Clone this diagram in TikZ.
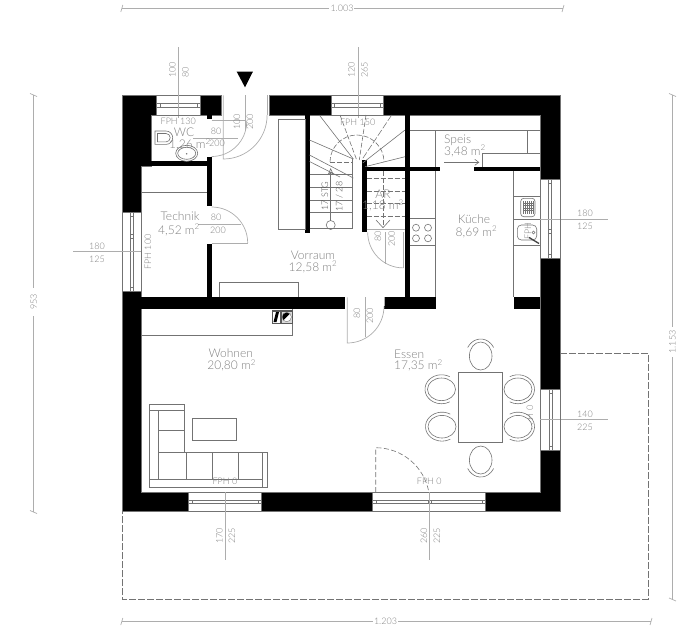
\documentclass[tikz,border=0pt]{standalone}
\usepackage{fontspec}
\setmainfont{Lato}[UprightFont={* Light}]
\usetikzlibrary{arrows.meta}
\definecolor{ln}{gray}{0.68}
\definecolor{fine}{gray}{0.45}
\definecolor{tx}{gray}{0.5}
\tikzset{
  wall/.style={fill=black,draw=fine,line width=0.5pt},
  dim/.style={draw=ln,line width=0.8pt},
  doorline/.style={draw=ln,line width=0.7pt},
  furn/.style={draw=fine,line width=0.6pt},
  furnw/.style={draw=fine,line width=0.6pt,fill=white},
  room/.style={text=tx,font=\fontsize{12}{12}\selectfont,inner sep=0pt,anchor=center},
  small/.style={text=tx,font=\fontsize{9}{9}\selectfont,inner sep=0pt,anchor=center},
  winbox/.style={draw=fine,line width=0.5pt,fill=white},
  dashline/.style={draw=fine,line width=0.6pt,dash pattern=on 5pt off 2.5pt},
  terr/.style={draw=fine,line width=0.7pt,dash pattern=on 7pt off 2pt},
  tickmark/.style={draw=ln,line width=0.7pt},
}
\begin{document}
\begin{tikzpicture}[x=1pt,y=-1pt]
\useasboundingbox (0,0) rectangle (700,641);
% terrace
\draw[terr] (560,353.3) -- (648,353.3) -- (648,599.3) -- (122,599.3) -- (122,511.7);
% dimension chains
\draw[dim] (122,8.5) -- (329,8.5) (354,8.5) -- (563,8.5);
\node[small] (d1003) at (342,8.5) {1.003};
\draw[tickmark] (120.8,12) -- (122.8,5) (562,12) -- (564,5);
\draw[dim] (122,621.5) -- (373,621.5) (398,621.5) -- (651,621.5);
\node[small] (d1203) at (385.5,621.5) {1.203};
\draw[tickmark] (120.8,625) -- (122.8,618) (650,625) -- (652,618);
\draw[dim] (33.7,95) -- (33.7,288) (33.7,316) -- (33.7,512);
\node[small,rotate=90] (d953) at (33.7,302) {953};
\draw[tickmark] (30,93.5) -- (37,96.5) (30,510.5) -- (37,513.5);
\draw[dim] (672.5,95) -- (672.5,327) (672.5,357) -- (672.5,599.5);
\node[small,rotate=90] (d1153) at (672.5,342) {1.153};
\draw[tickmark] (669,93.5) -- (676,96.5) (669,598) -- (676,601);
% window dimension lines
\draw[dim] (178.6,47) -- (178.6,118);
\draw[dim] (358,47) -- (358,118);
\draw[dim] (73,251.7) -- (141,251.7);
\draw[dim] (518,219) -- (608,219);
\draw[dim] (540,419.3) -- (608,419.3);
\draw[dim] (225.5,492) -- (225.5,560);
\draw[dim] (429.5,492) -- (429.5,560);
\node[small,rotate=90,anchor=west] (t100a) at (172.5,78) {100};
\node[small,rotate=90,anchor=west] (t80a) at (185.5,78) {80};
\node[small,rotate=90,anchor=west] (t120) at (351.5,78) {120};
\node[small,rotate=90,anchor=west] (t265) at (364.5,78) {265};
\node[small] (t180l) at (97,246.5) {180};
\node[small] (t125l) at (97,259.3) {125};
\node[small] (t180r) at (585,213.3) {180};
\node[small] (t125r) at (585,226.7) {125};
\node[small] (t140) at (585,414) {140};
\node[small] (t225r) at (585,427) {225};
\node[small,rotate=90] (t170) at (219.5,536) {170};
\node[small,rotate=90] (t225a) at (232,536) {225};
\node[small,rotate=90] (t260) at (424,536) {260};
\node[small,rotate=90] (t225b) at (437,536) {225};
% windows
\draw[winbox] (156.7,95.3) rectangle (200,115);
\draw[furn] (156.7,103) -- (200,103) (156.7,107.3) -- (200,107.3) (160,103) -- (160,107.3) (197,103) -- (197,107.3);
\draw[winbox] (331,95.3) rectangle (383,115);
\draw[furn] (331,103) -- (383,103) (331,107.3) -- (383,107.3) (334,103) -- (334,107.3) (380,103) -- (380,107.3);
\draw[winbox] (122,212.3) rectangle (141,291);
\draw[furn] (130,212.3) -- (130,291) (133.5,212.3) -- (133.5,291) (130,216) -- (133.5,216) (130,287) -- (133.5,287) (130,234) -- (133.5,234) (130,238) -- (133.5,238);
\draw[winbox] (540,179) rectangle (560,258);
\draw[furn] (548,179) -- (548,258) (551.5,179) -- (551.5,258) (548,183) -- (551.5,183) (548,254) -- (551.5,254) (548,229) -- (551.5,229) (548,233) -- (551.5,233);
\draw[winbox] (540,389) rectangle (560,450);
\draw[furn] (549.3,389) -- (549.3,450) (552.5,389) -- (552.5,450) (549.3,393) -- (552.5,393) (549.3,446) -- (552.5,446);
\draw[winbox] (188,492) rectangle (261.7,511.7);
\draw[furn] (188,500) -- (261.7,500) (188,503) -- (261.7,503) (192,500) -- (192,503) (258,500) -- (258,503);
\draw[winbox] (372.3,492) rectangle (485.7,511.7);
\draw[furn] (372.3,500) -- (485.7,500) (372.3,503) -- (485.7,503) (376,500) -- (376,503) (428,500) -- (428,503) (431,500) -- (431,503) (482,500) -- (482,503);
\draw[dim] (429.5,492) -- (429.5,511.7);
\draw[dim] (225.5,492) -- (225.5,511.7);
\draw[dim] (540,419.3) -- (560,419.3);
\draw[dim] (122,251.7) -- (141,251.7);
\draw[dim] (540,219) -- (560,219);
\draw[dim] (178.6,95.3) -- (178.6,115);
\draw[dim] (358,95.3) -- (358,115);
% outer walls
\draw[wall] (122,95.3) -- (156.7,95.3) -- (156.7,115) -- (151,115) -- (151,166) -- (141,166) -- (141,212.3) -- (122,212.3) -- cycle;
\draw[wall] (200,95.3) rectangle (221.7,115);
\fill[black] (206.7,112) rectangle (211.7,119);
\draw[wall] (269,95.3) rectangle (331,115);
\draw[wall] (383,95.3) -- (560,95.3) -- (560,179) -- (540,179) -- (540,115) -- (383,115) -- cycle;
\draw[wall] (540,258) rectangle (560,389);
\draw[wall] (540,450) -- (560,450) -- (560,511.7) -- (485.7,511.7) -- (485.7,492) -- (540,492) -- cycle;
\draw[wall] (261.7,492) rectangle (372.3,511.7);
\draw[wall] (122,291) -- (141,291) -- (141,492) -- (188,492) -- (188,511.7) -- (122,511.7) -- cycle;
% inner walls
\fill[black] (141,297.3) rectangle (345,309);
\fill[black] (384.3,297.3) rectangle (435.7,309);
\fill[black] (514,297.3) rectangle (540,309);
\fill[black] (141,161) rectangle (211.7,166);
\fill[black] (206.7,156.5) rectangle (211.7,206);
\fill[black] (206.7,244) rectangle (211.7,297.3);
\fill[black] (305,115) rectangle (309.5,232.7);
\fill[black] (405,115) rectangle (409.7,297.3);
\fill[black] (361.7,160) rectangle (366.7,232.3);
\fill[black] (361.7,166.7) rectangle (440,170.8);
\fill[black] (474.3,166.7) rectangle (540,170.8);
% Technik and WC
\draw[furn] (141,192) -- (206.7,192);
% wardrobes
\draw[furn] (278.3,119.3) rectangle (305,229.3);
\draw[furn] (219.3,297.3) -- (219.3,282.3) -- (298.3,282.3) -- (298.3,297.3);
% doors
\draw[doorline] (223.3,95.3) -- (223.3,159) arc[start angle=90,end angle=0,radius=43.8];
\draw[doorline] (267,95.3) -- (267,115);
\draw[doorline] (211.7,120) -- (245,120);
\draw[doorline] (245,95) -- (245,131);
\draw[doorline] (211.7,156.5) arc[start angle=90,end angle=0,radius=35];
\draw[doorline] (193,138) -- (238,138);
\draw[doorline] (211.7,207) arc[start angle=270,end angle=360,radius=36];
\draw[doorline] (211.7,243) -- (247.7,243);
\draw[doorline] (198,224.7) -- (241,224.7);
\draw[doorline] (347.3,297.3) -- (347.3,343) arc[start angle=90,end angle=0,radius=36.7];
\draw[doorline] (384,297.3) -- (384,306);
\draw[doorline] (365,297.3) -- (365,337);
\draw[doorline] (367.7,232.3) arc[start angle=180,end angle=90,radius=35.6];
\draw[doorline] (403.3,232) -- (403.3,267.9);
\draw[doorline] (385.7,232.3) -- (385.7,264);
\draw[doorline] (366.7,229) -- (405,229);
\draw[dashline] (375.7,492) -- (375.7,447.7) arc[start angle=270,end angle=350,radius=54];
% texts under furniture
\node[small,rotate=90] (fph0r) at (530,418) {FPH 0};
\node[small,rotate=90] (fphk) at (528,231) {FPH};
% stairs
\draw[furn] (309.5,174) -- (352.7,174) (309.5,187.3) -- (352.7,187.3) (309.5,200) -- (352.7,200) (309.5,212.7) -- (352.7,212.7) (309.5,228.5) -- (352.7,228.5);
\draw[furn] (352.7,159) -- (352.7,228.5);
\draw[furn] (319.3,115) -- (353.3,159) (405,130) -- (362.7,163) (405,156.7) -- (365,166.7);
\draw[furn,dash pattern=on 7pt off 2pt] (391.7,115) -- (361.7,160);
\draw[furn] (309.5,140) -- (353.3,159) (309.5,155) -- (353.3,178) (309.5,161.5) -- (340,177);
\draw[furn,dash pattern=on 5pt off 2pt] (340,115) -- (356.7,160);
\draw[furn,dash pattern=on 5pt off 2pt] (366,115) -- (359.3,160);
\draw[furn,dash pattern=on 5pt off 2pt] (330,162.5) -- (353,162.5);
\draw[furn,dash pattern=on 5pt off 2pt] (330,162) arc[start angle=180,end angle=360,radius=27];
\draw[furn,-{Stealth[open,length=7pt,width=6pt]}] (330.7,220.5) -- (330.7,168);
\draw[furn] (330.7,225) circle[radius=4.5];
\node[small,text=black!70,rotate=90] (stg) at (325,196) {17 STG};
\node[small,text=black!70,rotate=90] (stu) at (339.3,196.5) {17 / 28};
% AR upper stairs
\draw[furn,dash pattern=on 5pt off 2pt] (366.7,178) -- (405,178) (366.7,191.7) -- (405,191.7) (366.7,203) -- (405,203) (366.7,216) -- (405,216);
\draw[furn,dash pattern=on 5pt off 2pt] (383,171) -- (383,226);
\draw[furn] (376,220) -- (383,227.7) -- (390,220);
% kitchen
\draw[furn] (409.7,130.7) -- (540,130.7);
\draw[furn] (435.7,130.7) -- (435.7,166.7);
\draw[furn] (435.7,170.8) -- (435.7,297.3);
\draw[furn] (527.3,130.7) -- (527.3,153);
\draw[furn] (482.3,166.7) -- (482.3,153) -- (540,153);
\draw[furn] (513.7,170.8) -- (513.7,297.3);
\draw[furn] (513.7,196) -- (540,196) (513.7,218.8) -- (540,218.8) (513.7,245.7) -- (540,245.7);
\draw[furn] (409.7,218.7) -- (435.7,218.7) (409.7,245.7) -- (435.7,245.7);
\draw[furn] (416,227.7) circle[radius=3.5] (428,227.7) circle[radius=3.5] (416,238.3) circle[radius=3.5] (428,238.3) circle[radius=3.5];
\draw[furn,rounded corners=3pt] (520.7,198.3) rectangle (535,216.7);
\draw[furn,line width=0.4pt] (523,201) -- (523,214) (525,201) -- (525,214) (527,201) -- (527,214) (529,201) -- (529,214) (531,201) -- (531,214) (533,201) -- (533,214) (523,203) -- (533,203) (523,205.5) -- (533,205.5) (523,208) -- (533,208) (523,210.5) -- (533,210.5);
\draw[furn,rounded corners=4pt] (517.3,225) rectangle (536.7,240);
\draw[furn] (533.5,232.5) circle[radius=1.5];
\draw[fine!60!black,line width=1.3pt] (529,237.5) -- (539,243.5);
\draw[furn,-{Straight Barb[length=4pt,width=6pt]}] (444,162.3) -- (479.3,162.3);
% Wohnen
\draw[furn] (141,335) -- (292.7,335) -- (292.7,309);
\fill[black!65] (271.7,310) rectangle (292.7,324);
\fill[white] (273,311.5) rectangle (280,322.5);
\fill[black] (276,312) -- (279,312) -- (276.5,322) -- (273.5,322) -- cycle;
\fill[black!15] (281.5,311.5) rectangle (291.5,322.5);
\fill[white] (286.7,317) circle[radius=4.7];
\draw[fine] (286.7,317) circle[radius=4.7];
\fill[black] (283.6,320.1) arc[start angle=135,end angle=315,radius=4.4] -- cycle;
% sofa
\draw[furn] (149.3,404) rectangle (184.7,410.3);
\draw[furn] (149.3,410.3) -- (149.3,487.3) -- (267.7,487.3) -- (267.7,452.3) -- (184.7,452.3) -- (184.7,410.3);
\draw[furn] (158.3,410.3) -- (158.3,479) (158.3,430) -- (184.7,430) (158.3,452.3) -- (184.7,452.3);
\draw[furn] (149.3,479) -- (262.3,479) (262.3,452.3) -- (262.3,487.3);
\draw[furn] (186,452.3) -- (186,479) (212,452.3) -- (212,479) (238,452.3) -- (238,479);
\draw[furn] (192.7,418.7) rectangle (236.3,440.7);
% dining
\draw[furn] (458.7,372.3) rectangle (502.3,442.7);
\draw[furnw] (480.7,356) ellipse[x radius=11.3,y radius=14];
\draw[furn] (467.7,347.5) arc[start angle=210,end angle=330,x radius=15,y radius=17];
\draw[furnw] (480.7,460) ellipse[x radius=11.3,y radius=14];
\draw[furn] (467.7,468.5) arc[start angle=150,end angle=30,x radius=15,y radius=17];
\draw[furnw] (441.5,389.3) ellipse[x radius=14,y radius=11.3];
\draw[furn] (449.75,376.7) arc[start angle=300,end angle=60,x radius=16.5,y radius=14.5];
\draw[furnw] (442,426.7) ellipse[x radius=14,y radius=11.3];
\draw[furn] (450.25,414.1) arc[start angle=300,end angle=60,x radius=16.5,y radius=14.5];
\draw[furnw] (518,389.3) ellipse[x radius=14,y radius=11.3];
\draw[furn] (509.75,376.7) arc[start angle=240,end angle=480,x radius=16.5,y radius=14.5];
\draw[furnw] (518,426.7) ellipse[x radius=14,y radius=11.3];
\draw[furn] (509.75,414.1) arc[start angle=240,end angle=480,x radius=16.5,y radius=14.5];
% WC fixtures
\draw[furn] (155,131) -- (166,131) arc[start angle=-90,end angle=90,radius=6.7] -- (155,144.4) -- cycle;
\draw[furn] (157.5,133.5) -- (166,133.5) arc[start angle=-90,end angle=90,radius=4.2] -- (157.5,141.9) -- cycle;
\draw[furnw] (186.7,153.3) ellipse[x radius=11,y radius=8];
\draw[furn] (186.7,153.3) ellipse[x radius=9,y radius=6];
\fill[fine] (186.7,153.8) circle[radius=0.8];
% room labels
\node[small] (fph130) at (178.3,121.7) {FPH 130};
\node[small] (fph150) at (357.7,122.3) {FPH 150};
\node[small,rotate=90] (fph100) at (148,252) {FPH 100};
\node[small] (fph0a) at (225,481.5) {FPH 0};
\node[small] (fph0b) at (429.3,481.5) {FPH 0};
\node[room] (wc1) at (184,132.7) {WC};
\node[room] (wc2) at (190,144.5) {1,26 m\textsuperscript{2}};
\node[small] (wd80) at (216,131) {80};
\node[small] (wd200) at (217,143) {200};
\node[small,rotate=90] (ed100) at (237,122) {100};
\node[small,rotate=90] (ed200) at (250,122) {200};
\node[room] (te1) at (180,215.7) {Technik};
\node[room] (te2) at (179,230) {4,52 m\textsuperscript{2}};
\node[small] (td80) at (216,217) {80};
\node[small] (td200) at (218,230) {200};
\node[room] (vo1) at (313,255) {Vorraum};
\node[room] (vo2) at (313,267) {12,58 m\textsuperscript{2}};
\node[small,rotate=90] (vd80) at (357,313) {80};
\node[small,rotate=90] (vd200) at (370,316) {200};
\node[room] (ar1) at (383,194) {AR};
\node[room] (ar2) at (383,205.7) {1,18 m\textsuperscript{2}};
\node[small,rotate=90] (ad80) at (378,236.7) {80};
\node[small,rotate=90] (ad200) at (391.7,239) {200};
\node[room,anchor=west] (sp1) at (444,140) {Speis};
\node[room,anchor=west] (sp2) at (444,151) {3,48 m\textsuperscript{2}};
\node[room] (ku1) at (474,219.5) {Küche};
\node[room] (ku2) at (476.5,232) {8,69 m\textsuperscript{2}};
\node[room] (wo1) at (230.7,353.5) {Wohnen};
\node[room] (wo2) at (231.7,365.5) {20,80 m\textsuperscript{2}};
\node[room,anchor=west] (es1) at (394,354.3) {Essen};
\node[room,anchor=west] (es2) at (394,365.5) {17,35 m\textsuperscript{2}};
% entrance arrow
\fill[black] (236.7,71.7) -- (252.9,71.7) -- (245,87.3) -- cycle;
\end{tikzpicture}
\end{document}
